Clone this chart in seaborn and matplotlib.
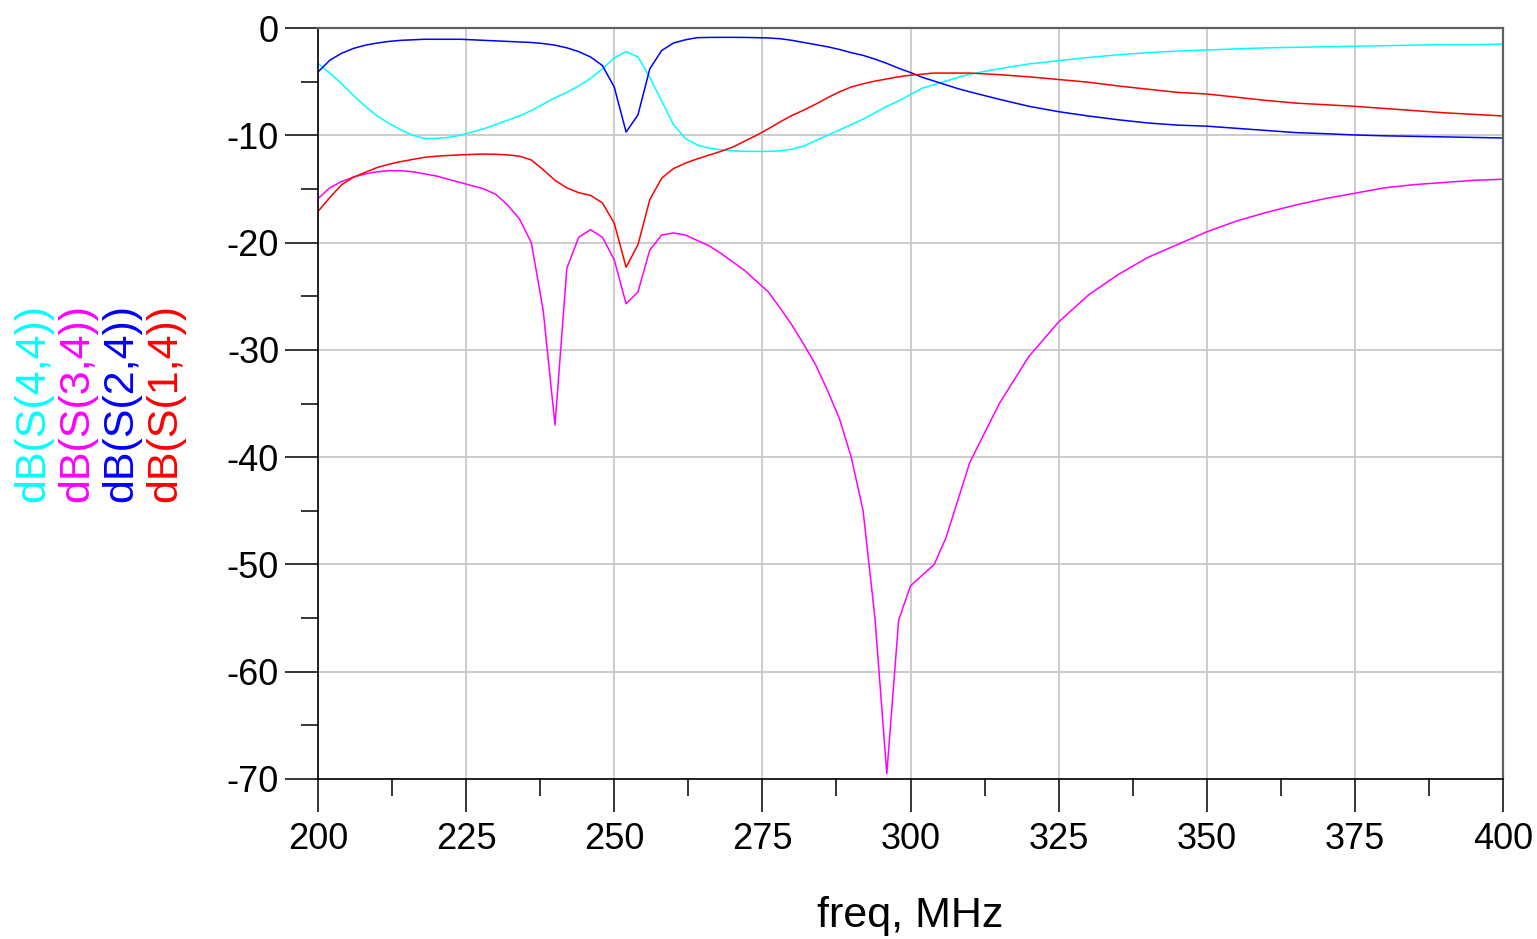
import matplotlib
matplotlib.use("Agg")
import matplotlib.pyplot as plt
from matplotlib.ticker import MultipleLocator
import pandas as pd
import numpy as np
import seaborn as sns

# frequency grid (MHz): 2 MHz steps up to 310, then 5 MHz
freq = list(range(200, 312, 2)) + list(range(315, 405, 5))

s44 = [-3.3, -4.2, -5.2, -6.3, -7.3, -8.2, -8.9, -9.5, -10.0, -10.3,
       -10.3, -10.2, -10.0, -9.7, -9.4, -9.0, -8.6, -8.2, -7.7, -7.1,
       -6.5, -6.0, -5.4, -4.7, -3.8, -2.8, -2.2, -2.7, -4.6, -6.8,
       -9.0, -10.3, -10.9, -11.2, -11.35, -11.45, -11.5, -11.5, -11.5, -11.45,
       -11.3, -11.0, -10.5, -10.0, -9.5, -9.0, -8.5, -7.9, -7.3, -6.8,
       -6.2, -5.6, -5.3, -4.95, -4.6, -4.3,
       -3.8, -3.35, -3.05, -2.75, -2.5, -2.3, -2.15, -2.05, -1.95, -1.85,
       -1.8, -1.75, -1.7, -1.65, -1.6, -1.55, -1.55, -1.5]

s34 = [-15.9, -14.9, -14.3, -13.9, -13.6, -13.4, -13.3, -13.3, -13.4, -13.6,
       -13.8, -14.1, -14.4, -14.7, -15.0, -15.5, -16.5, -17.8, -20.0, -26.3,
       -37.0, -22.4, -19.5, -18.8, -19.5, -21.6, -25.7, -24.6, -20.7, -19.3,
       -19.1, -19.3, -19.8, -20.3, -21.0, -21.8, -22.6, -23.6, -24.6, -26.1,
       -27.7, -29.5, -31.4, -33.8, -36.4, -40.0, -45.0, -55.0, -69.5, -55.2,
       -52.0, -51.0, -50.0, -47.5, -44.0, -40.5,
       -35.0, -30.6, -27.4, -24.9, -23.0, -21.4, -20.2, -19.0, -18.0, -17.2,
       -16.5, -15.9, -15.4, -14.9, -14.6, -14.4, -14.2, -14.1]

s24 = [-4.1, -3.0, -2.35, -1.9, -1.6, -1.4, -1.25, -1.15, -1.1, -1.05,
       -1.05, -1.05, -1.05, -1.1, -1.15, -1.2, -1.25, -1.3, -1.35, -1.45,
       -1.6, -1.85, -2.2, -2.7, -3.5, -5.5, -9.7, -8.1, -3.8, -2.1,
       -1.4, -1.1, -0.9, -0.88, -0.87, -0.87, -0.88, -0.9, -0.93, -1.0,
       -1.15, -1.35, -1.55, -1.75, -2.0, -2.3, -2.55, -2.9, -3.3, -3.75,
       -4.15, -4.6, -4.95, -5.3, -5.65, -5.95,
       -6.65, -7.3, -7.8, -8.2, -8.55, -8.85, -9.05, -9.15, -9.35, -9.55,
       -9.75, -9.85, -9.97, -10.05, -10.1, -10.15, -10.2, -10.25]

s14 = [-17.1, -15.8, -14.6, -13.9, -13.45, -13.0, -12.7, -12.45, -12.25, -12.05,
       -11.95, -11.88, -11.83, -11.78, -11.75, -11.77, -11.83, -11.95, -12.3, -13.2,
       -14.2, -14.9, -15.35, -15.6, -16.3, -18.2, -22.3, -20.2, -16.0, -14.0,
       -13.1, -12.6, -12.2, -11.85, -11.5, -11.1, -10.55, -10.0, -9.4, -8.75,
       -8.15, -7.65, -7.1, -6.5, -5.95, -5.5, -5.2, -4.95, -4.75, -4.55,
       -4.4, -4.3, -4.2, -4.2, -4.2, -4.2,
       -4.35, -4.55, -4.8, -5.05, -5.4, -5.7, -6.0, -6.15, -6.45, -6.75,
       -7.0, -7.15, -7.3, -7.5, -7.7, -7.9, -8.05, -8.2]

names = ["dB(S(4,4))", "dB(S(3,4))", "dB(S(2,4))", "dB(S(1,4))"]
colors = ["#00ffff", "#ff00ff", "#0000ff", "#ff0000"]
xticks = [200, 225, 250, 275, 300, 325, 350, 375, 400]
yticks = [0, -10, -20, -30, -40, -50, -60, -70]

df = pd.concat([
    pd.DataFrame({"freq": freq, "dB": vals, "trace": name})
    for name, vals in zip(names, [s44, s34, s24, s14])
])

sns.set_style("ticks")
plt.rcParams["font.family"] = ["Liberation Sans", "DejaVu Sans"]
plt.rcParams["axes.unicode_minus"] = False
plt.rcParams["text.color"] = "black"
plt.rcParams["axes.labelcolor"] = "black"

fig = plt.figure(figsize=(15.37, 9.39), dpi=100)
ax = fig.add_axes([318 / 1537, 1 - 779 / 939, (1503 - 318) / 1537, (779 - 28) / 939])

sns.lineplot(data=df, x="freq", y="dB", hue="trace", hue_order=names,
             palette=colors, linewidth=1.1, legend=False, ax=ax, sort=False)

ax.set_xlim(200, 400)
ax.set_ylim(-70, 0)
ax.set_xticks(xticks)
ax.set_yticks(yticks)
ax.xaxis.set_minor_locator(MultipleLocator(12.5))
ax.yaxis.set_minor_locator(MultipleLocator(5))
ax.grid(True, which="major", color="#c8c8c8", linewidth=1.3)
ax.set_axisbelow(True)

ax.tick_params(which="major", direction="out", length=24, width=1.1,
               color="black", labelcolor="black", labelsize=26, pad=4)
ax.tick_params(axis="x", which="major", pad=7)
ax.tick_params(which="minor", direction="out", length=12, width=1.1, color="black")

for side in ["left", "bottom"]:
    ax.spines[side].set_color("black")
    ax.spines[side].set_linewidth(1.2)
for side in ["top", "right"]:
    ax.spines[side].set_visible(True)
    ax.spines[side].set_color("#606060")
    ax.spines[side].set_linewidth(1.6)

ax.set_xlabel("freq, MHz", fontsize=31, labelpad=28, color="black")
ax.set_ylabel("")

# stacked, rotated trace labels on the left
for i, (name, col) in enumerate(zip(names, colors)):
    fig.text((33 + 44 * i) / 1537, 1 - 502 / 939, name, color=col,
             fontsize=31, rotation=90, ha="center", va="bottom")

fig.savefig("out.png", dpi=100)
